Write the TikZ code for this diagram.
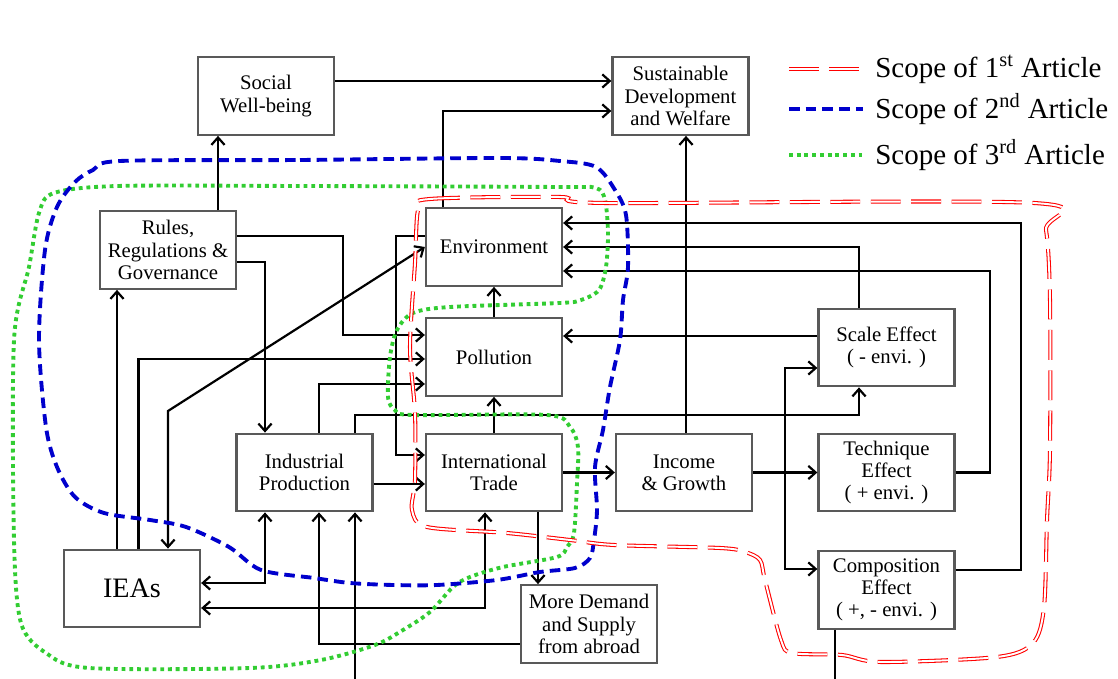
\documentclass[tikz,border=0pt]{standalone}
\usepackage{fontspec}
\setmainfont{Liberation Serif}
\usetikzlibrary{arrows.meta}
\definecolor{scopeblue}{RGB}{0,0,204}
\definecolor{scopegreen}{RGB}{50,205,50}

\begin{document}
\begin{tikzpicture}[
  >={Straight Barb[length=4.2pt,width=7.5pt]},
  box/.style={draw=black!65, line width=1.3pt, minimum width=2.72cm, minimum height=1.55cm,
    align=center, inner sep=0pt, font=\fontsize{11.8}{12.6}\selectfont},
  link/.style={line width=1.25pt},
  scopeone/.style={draw=red, line width=0.6pt, double=white, double distance=1.1pt,
    dash pattern=on 17pt off 6pt},
  scopetwo/.style={draw=scopeblue, line width=2.2pt, dash pattern=on 6pt off 3.5pt},
  scopethree/.style={draw=scopegreen, line width=2.2pt, dash pattern=on 2.2pt off 2.2pt},
  legend/.style={anchor=west, inner sep=0pt, font=\fontsize{16.5}{18}\selectfont}
]
  \useasboundingbox (0,0) rectangle (22.36,-13.58);

  \node[box] (social)  at ( 5.32, -1.92) {Social\\Well-being};
  \node[box] (sustain) at (13.61, -1.92) {Sustainable\\Development\\and Welfare};
  \node[box] (rules)   at ( 3.36, -5.00) {Rules,\\Regulations \&\\Governance};
  \node[box] (env)     at ( 9.88, -4.94) {Environment};
  \node[box] (poll)    at ( 9.88, -7.14) {Pollution};
  \node[box] (indus)   at ( 6.09, -9.45) {Industrial\\Production};
  \node[box] (trade)   at ( 9.88, -9.45) {International\\Trade};
  \node[box] (income)  at (13.68, -9.45) {Income\\\& Growth};
  \node[box] (scale)   at (17.73, -6.95) {Scale Effect\\( - envi. )};
  \node[box] (tech)    at (17.73, -9.45) {Technique\\Effect\\( + envi. )};
  \node[box] (comp)    at (17.73,-11.80) {Composition\\Effect\\( +, - envi. )};
  \node[box, font=\fontsize{16}{18}\selectfont] (ieas) at ( 2.64,-11.77) {IEAs};
  \node[box] (more)    at (11.78,-12.48) {More Demand\\and Supply\\from abroad};

  \coordinate (inflow)  at ( 7.10,-13.58);
  \coordinate (outflow) at (16.70,-13.58);
  \coordinate (split)   at (15.70, -9.45);

  \draw[link,->] (rules.north -| 4.36,0) -- (social.south -| 4.36,0);
  \draw[link,->] (social.east |- 0,-1.62) -- (sustain.west |- 0,-1.62);
  \draw[link,->] (env.north -| 8.86,0) |- (sustain.west |- 0,-2.22);
  \draw[link,->] (income.north -| 13.72,0) -- (sustain.south -| 13.72,0);
  \draw[link,->] (rules.east |- 0,-4.72) -| (6.86,-6.70) -- (poll.west |- 0,-6.70);
  \draw[link,->] (rules.east |- 0,-5.24) -| (indus.north -| 5.30,0);
  \draw[link,->] (ieas.north -| 2.34,0) -- (rules.south -| 2.34,0);
  \draw[link,->] (ieas.north -| 2.77,0) |- (poll.west |- 0,-7.18);
  \draw[link,<->] (ieas.north -| 3.36,0) -- (3.36,-8.22) -- (env.west);
  \draw[link,->] (env.west |- 0,-4.72) -| (7.92,-9.10) -- (trade.west |- 0,-9.10);
  \draw[link,->] (indus.north -| 6.38,0) |- (poll.west |- 0,-7.68);
  \draw[link,->] (indus.north -| 7.10,0) |- (17.18,-8.30) -- (scale.south -| 17.18,0);
  \draw[link,->] (indus.east |- 0,-9.68) -- (trade.west |- 0,-9.68);
  \draw[link,->] (trade.north) -- (poll.south);
  \draw[link,->] (poll.north) -- (env.south);
  \draw[link,<->] (indus.south -| 5.30,0) |- (ieas.east |- 0,-11.66);
  \draw[link,<->] (trade.south -| 9.70,0) |- (ieas.east |- 0,-12.16);
  \draw[link,->] (more.west |- 0,-12.88) -| (indus.south -| 6.38,0);
  \draw[link,->] (inflow) -- (indus.south -| inflow);
  \draw[link,->] (trade.south -| 10.76,0) -- (more.north -| 10.76,0);
  \draw[link,->] (trade.east) -- (income.west);
  \draw[link,->] (income.east) -- (tech.west);
  \draw[link,->] (split) |- (scale.west |- 0,-7.36);
  \draw[link,->] (split) |- (comp.west |- 0,-11.38);
  \draw[link,->] (scale.west |- 0,-6.72) -- (poll.east |- 0,-6.72);
  \draw[link,->] (scale.north -| 17.18,0) |- (env.east);
  \draw[link,->] (tech.east) -| (19.80,-5.42) -- (env.east |- 0,-5.42);
  \draw[link,->] (comp.east |- 0,-11.40) -| (20.42,-4.46) -- (env.east |- 0,-4.46);
  \draw[link] (comp.south -| outflow) -- (outflow);

  \draw[scopethree] plot[smooth cycle, tension=0.5] coordinates {
    (1.08,-3.86) (2.36,-3.72) (6.00,-3.72) (11.20,-3.74) (11.92,-3.76) (12.10,-4.00)
    (12.16,-4.66) (12.12,-5.34) (11.98,-5.80) (11.62,-6.00) (11.20,-6.06) (9.00,-6.14)
    (8.26,-6.26) (7.94,-6.60) (7.80,-7.14) (7.76,-7.94) (7.90,-8.20) (8.26,-8.30)
    (10.94,-8.30) (11.40,-8.54) (11.56,-8.94) (11.54,-9.66) (11.48,-10.66) (11.34,-10.94)
    (11.14,-11.14) (10.06,-11.34) (9.40,-11.54) (9.06,-11.74) (8.60,-12.24) (8.06,-12.60)
    (7.50,-12.90) (6.42,-13.20) (5.00,-13.36) (1.78,-13.36) (0.92,-13.06) (0.42,-12.46)
    (0.28,-10.80) (0.28,-6.80) (0.58,-5.34) (0.78,-4.26)};
  \draw[scopetwo] plot[smooth cycle, tension=0.5] coordinates {
    (2.40,-3.22) (6.00,-3.20) (10.00,-3.16) (11.20,-3.22) (11.92,-3.34) (12.30,-3.80)
    (12.52,-4.30) (12.56,-5.34) (12.46,-6.00) (12.40,-6.80) (12.20,-7.74) (12.06,-8.60)
    (11.90,-9.34) (11.94,-10.20) (11.88,-10.80) (11.80,-11.16) (11.50,-11.36) (10.80,-11.44)
    (9.94,-11.60) (8.74,-11.70) (7.86,-11.70) (7.00,-11.66) (6.28,-11.56) (5.22,-11.40)
    (4.58,-10.94) (3.72,-10.54) (3.00,-10.40) (2.08,-10.26) (1.50,-9.94) (1.14,-9.34)
    (0.92,-8.54) (0.78,-6.80) (0.90,-5.00) (1.14,-4.14) (1.50,-3.64) (1.86,-3.40)};
  \draw[scopeone] plot[smooth cycle, tension=0.5] coordinates {
    (8.36,-4.20) (8.60,-3.98) (11.20,-3.94) (12.10,-4.06) (20.68,-4.06) (20.92,-4.60)
    (21.00,-6.00) (21.00,-9.00) (20.94,-10.40) (20.88,-12.14) (20.66,-12.86) (19.94,-13.14)
    (17.62,-13.24) (16.84,-13.10) (15.84,-13.06) (15.62,-12.80) (15.30,-11.60) (15.20,-11.20)
    (14.90,-11.04) (14.40,-10.96) (12.28,-10.90) (11.40,-10.80) (10.14,-10.66) (8.54,-10.54)
    (8.24,-10.20) (8.30,-9.60) (8.30,-8.26) (8.20,-6.94) (8.30,-5.26)};

  \node[legend] (leg1) at (17.50,-1.38) {Scope of 1\textsuperscript{st} Article};
  \node[legend] (leg2) at (17.50,-2.18) {Scope of 2\textsuperscript{nd} Article};
  \node[legend] (leg3) at (17.50,-3.10) {Scope of 3\textsuperscript{rd} Article};
  \draw[scopeone]   ([xshift=-1.72cm]leg1.west) -- ([xshift=-0.24cm]leg1.west);
  \draw[scopetwo]   ([xshift=-1.72cm]leg2.west) -- ([xshift=-0.24cm]leg2.west);
  \draw[scopethree] ([xshift=-1.72cm]leg3.west) -- ([xshift=-0.24cm]leg3.west);
\end{tikzpicture}
\end{document}
